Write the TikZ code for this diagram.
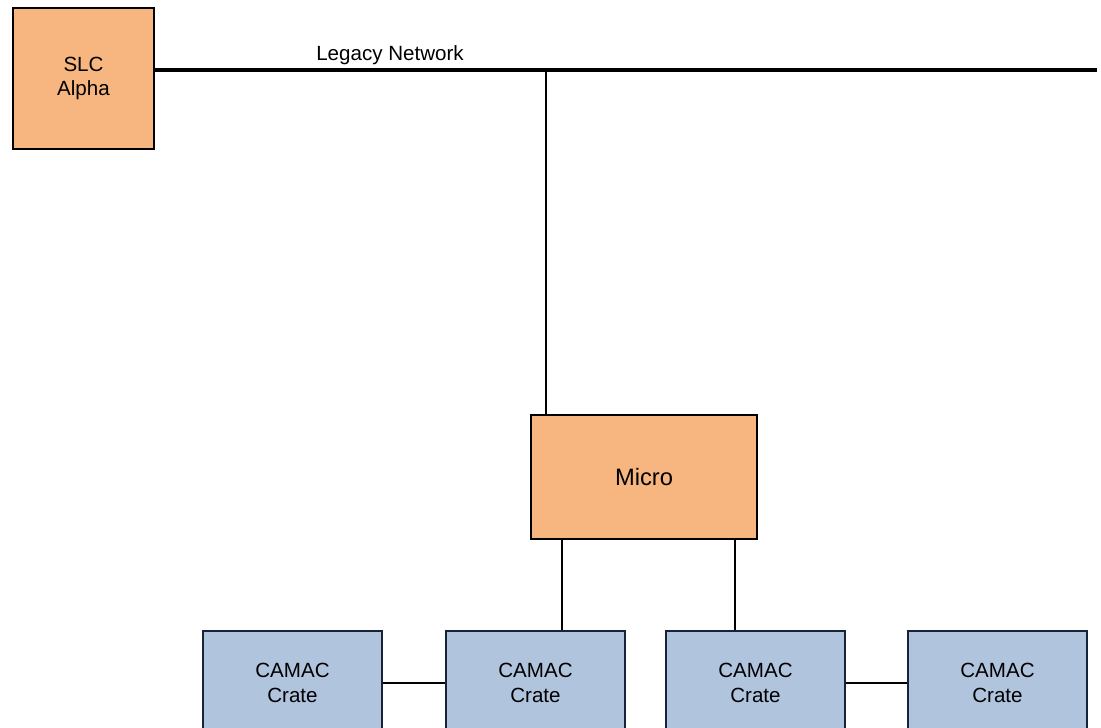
\documentclass[tikz,border=0pt]{standalone}
\usepackage{fontspec}
\setmainfont{Liberation Sans}
\usepackage{tikz}
\usetikzlibrary{positioning,calc}
\definecolor{boxorange}{RGB}{247,182,128}
\definecolor{boxblue}{RGB}{176,196,222}
\definecolor{bluedge}{RGB}{22,36,58}

\begin{document}
\begin{tikzpicture}[
    txt/.style={font=\fontsize{11.7}{13.8}\selectfont, align=center},
    host/.style={txt, draw=black, line width=1pt, fill=boxorange,
                 minimum width=2.82cm, minimum height=2.82cm},
    micro/.style={host, font=\fontsize{13.5}{15}\selectfont,
                  minimum width=4.52cm, minimum height=2.48cm},
    crate/.style={txt, draw=bluedge, line width=1pt, fill=boxblue,
                  minimum width=3.58cm, minimum height=2.08cm},
    wire/.style={line width=1pt},
    bus/.style={line width=1.8pt}
]
\useasboundingbox (0,0) rectangle (22.02,-14.54);
\clip (0,0) rectangle (22.02,-14.54);

% ============================
% Legacy network
% ============================
\node[host] (slc) at (1.67,-1.57) {SLC\\Alpha};
\coordinate (netend) at (21.94,-1.40);
\coordinate (tap) at (10.92,-1.40);
\draw[bus] (slc.east |- netend) -- (netend);
\node[txt] (netlabel) at (7.8,-1.10) {Legacy Network};

% ============================
% Micro
% ============================
\node[micro] (micro) at (12.88,-9.54) {Micro};
\draw[wire] (tap) -- (tap |- micro.north);

% ============================
% CAMAC crates
% ============================
\node[crate] (crateA) at (5.85,-13.66)  {CAMAC\\Crate};
\node[crate] (crateB) at (10.71,-13.66) {CAMAC\\Crate};
\node[crate] (crateC) at (15.11,-13.66) {CAMAC\\Crate};
\node[crate] (crateD) at (19.95,-13.66) {CAMAC\\Crate};
% Links
\draw[wire] ([xshift=-1.64cm]micro.south) -- ([xshift=0.53cm]crateB.north);
\draw[wire] ([xshift=1.82cm]micro.south) -- ([xshift=-0.41cm]crateC.north);
\draw[wire] (crateA) -- (crateB);
\draw[wire] (crateC) -- (crateD);

\end{tikzpicture}
\end{document}
